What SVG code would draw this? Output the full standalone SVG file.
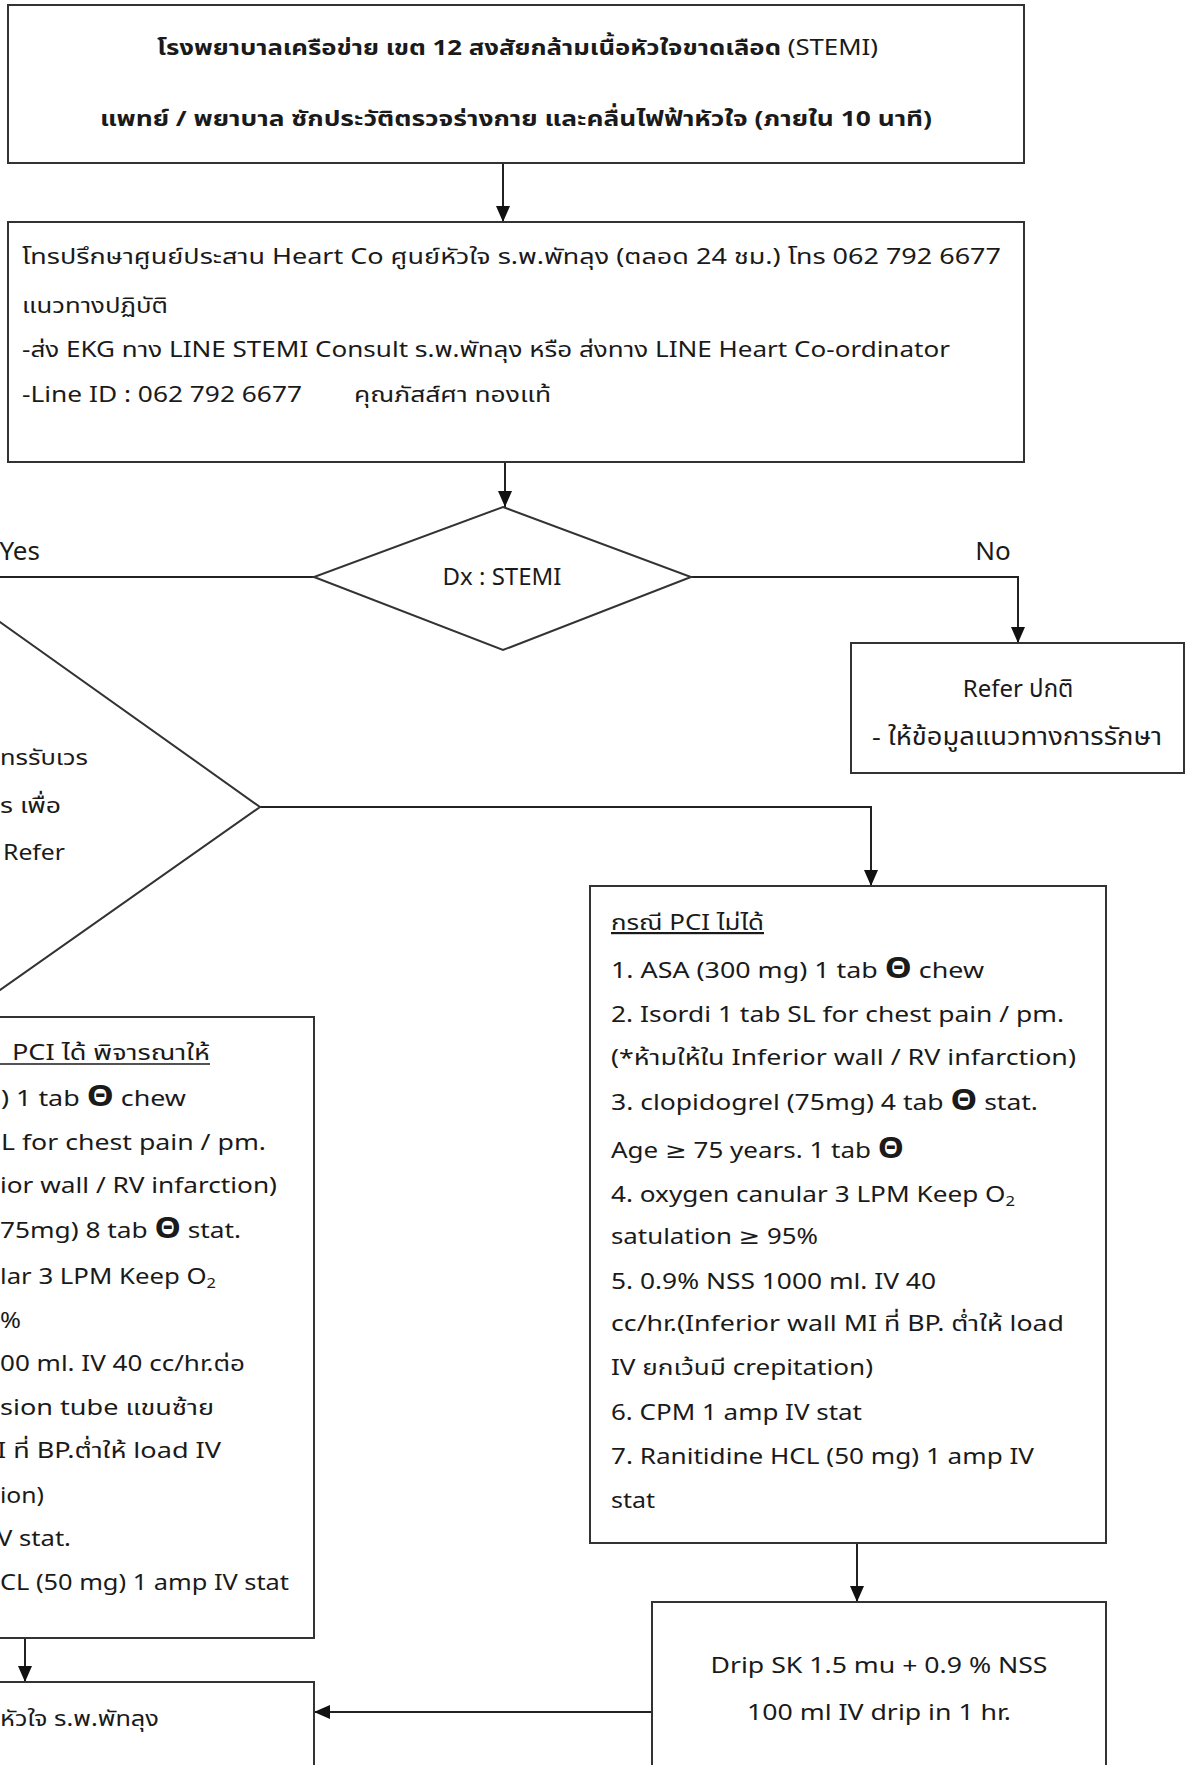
<svg xmlns="http://www.w3.org/2000/svg" width="1186" height="1765" viewBox="0 0 1186 1765">
<style>
.box{fill:#fff;stroke:#333;stroke-width:2}
.ln{fill:none;stroke:#222;stroke-width:2}
text{font-family:"Noto Sans Thai","Noto Sans","DejaVu Sans",sans-serif;font-size:22px;fill:#1a1a1a}
.b{font-weight:bold}
.n{font-weight:normal}
.th{font-weight:bold;font-size:28px}
.u{text-decoration:underline}
.c{text-anchor:middle}
.e{text-anchor:end}
</style>
<defs>
<marker id="ah" markerUnits="userSpaceOnUse" markerWidth="16" markerHeight="14" refX="16" refY="7" orient="auto">
<path d="M0,0 L16,7 L0,14 Z" fill="#111"/>
</marker>
</defs>
<rect width="1186" height="1765" fill="#fff"/>

<g id="connectors">
<line class="ln" x1="503" y1="163" x2="503" y2="222" marker-end="url(#ah)"/>
<line class="ln" x1="505" y1="462" x2="505" y2="507" marker-end="url(#ah)"/>
<line class="ln" x1="314" y1="577" x2="0" y2="577"/>
<polyline class="ln" points="691,577 1018,577 1018,643" marker-end="url(#ah)"/>
<polyline class="ln" points="260,807 871,807 871,886" marker-end="url(#ah)"/>
<line class="ln" x1="857" y1="1543" x2="857" y2="1602" marker-end="url(#ah)"/>
<line class="ln" x1="25" y1="1638" x2="25" y2="1682" marker-end="url(#ah)"/>
<line class="ln" x1="652" y1="1712" x2="314" y2="1712" marker-end="url(#ah)"/>
<text x="40" y="560" class="e" style="font-size:26px">Yes</text>
<text x="993" y="560" class="c" style="font-size:26px">No</text>
</g>

<g id="n-start">
<rect class="box" x="8" y="5" width="1016" height="158"/>
<text class="b" x="157" y="55" textLength="721" lengthAdjust="spacingAndGlyphs">โรงพยาบาลเครือข่าย เขต 12 สงสัยกล้ามเนื้อหัวใจขาดเลือด <tspan class="n">(STEMI)</tspan></text>
<text class="b" x="100" y="126" textLength="832" lengthAdjust="spacingAndGlyphs">แพทย์ / พยาบาล ซักประวัติตรวจร่างกาย และคลื่นไฟฟ้าหัวใจ (ภายใน 10 นาที)</text>
</g>

<g id="n-consult">
<rect class="box" x="8" y="222" width="1016" height="240"/>
<text x="22" y="264" textLength="979" lengthAdjust="spacingAndGlyphs">โทรปรึกษาศูนย์ประสาน Heart Co ศูนย์หัวใจ ร.พ.พัทลุง (ตลอด 24 ชม.) โทร 062 792 6677</text>
<text x="22" y="313" textLength="146" lengthAdjust="spacingAndGlyphs">แนวทางปฏิบัติ</text>
<text x="22" y="357" textLength="928" lengthAdjust="spacingAndGlyphs">-ส่ง EKG ทาง LINE STEMI Consult ร.พ.พัทลุง หรือ ส่งทาง LINE Heart Co-ordinator</text>
<text x="22" y="402" textLength="280" lengthAdjust="spacingAndGlyphs">-Line ID : 062 792 6677</text>
<text x="354" y="402" textLength="197" lengthAdjust="spacingAndGlyphs">คุณภัสส์ศา ทองแท้</text>
</g>

<g id="n-dx">
<polygon class="box" points="503,507 691,577 503,650 314,577"/>
<text x="502" y="585" class="c" style="font-size:24px">Dx : STEMI</text>
</g>

<g id="n-refer">
<rect class="box" x="851" y="643" width="333" height="130"/>
<text x="1018" y="697" class="c" style="font-size:24px">Refer ปกติ</text>
<text x="1017" y="745" class="c" textLength="290" lengthAdjust="spacingAndGlyphs" style="font-size:24px">- ให้ข้อมูลแนวทางการรักษา</text>
</g>

<g id="n-decision2">
<polygon class="box" points="0,622 260,807 0,990 -260,807"/>
<text x="0" y="765" textLength="88" lengthAdjust="spacingAndGlyphs">ทรรับเวร</text>
<text x="0" y="813" textLength="61" lengthAdjust="spacingAndGlyphs">ร เพื่อ</text>
<text x="3" y="860" textLength="62" lengthAdjust="spacingAndGlyphs">Refer</text>
</g>

<g id="n-pci-yes">
<rect class="box" x="-10" y="1017" width="324" height="621"/>
<text x="12" y="1060" textLength="198" lengthAdjust="spacingAndGlyphs">PCI ได้ พิจารณาให้</text>
<line x1="0" y1="1064" x2="210" y2="1064" stroke="#1a1a1a" stroke-width="1.5"/>
<text x="1" y="1106" textLength="185" lengthAdjust="spacingAndGlyphs">) 1 tab <tspan class="th">Θ</tspan> chew</text>
<text x="1" y="1150" textLength="265" lengthAdjust="spacingAndGlyphs">L for chest pain / pm.</text>
<text x="0" y="1193" textLength="277" lengthAdjust="spacingAndGlyphs">ior wall / RV infarction)</text>
<text x="0" y="1238" textLength="241" lengthAdjust="spacingAndGlyphs">75mg) 8 tab <tspan class="th">Θ</tspan> stat.</text>
<text x="0" y="1284" textLength="216" lengthAdjust="spacingAndGlyphs">lar 3 LPM Keep O<tspan style="font-size:14px" dy="4">2</tspan></text>
<text x="0" y="1328" textLength="21" lengthAdjust="spacingAndGlyphs">%</text>
<text x="0" y="1371" textLength="245" lengthAdjust="spacingAndGlyphs">00 ml. IV 40 cc/hr.ต่อ</text>
<text x="0" y="1415" textLength="214" lengthAdjust="spacingAndGlyphs">sion tube แขนซ้าย</text>
<text x="-3" y="1458" textLength="224" lengthAdjust="spacingAndGlyphs">I ที่ BP.ต่ำให้ load IV</text>
<text x="0" y="1503" textLength="44" lengthAdjust="spacingAndGlyphs">ion)</text>
<text x="-3" y="1546" textLength="74" lengthAdjust="spacingAndGlyphs">V stat.</text>
<text x="0" y="1590" textLength="289" lengthAdjust="spacingAndGlyphs">CL (50 mg) 1 amp IV stat</text>
</g>

<g id="n-pci-no">
<rect class="box" x="590" y="886" width="516" height="657"/>
<text x="611" y="930" class="u" textLength="153" lengthAdjust="spacingAndGlyphs">กรณี PCI ไม่ได้</text>
<text x="611" y="978" textLength="373" lengthAdjust="spacingAndGlyphs">1. ASA (300 mg) 1 tab <tspan class="th">Θ</tspan> chew</text>
<text x="611" y="1022" textLength="453" lengthAdjust="spacingAndGlyphs">2. Isordi 1 tab SL for chest pain / pm.</text>
<text x="611" y="1065" textLength="465" lengthAdjust="spacingAndGlyphs">(*ห้ามให้ใน Inferior wall / RV infarction)</text>
<text x="611" y="1110" textLength="427" lengthAdjust="spacingAndGlyphs">3. clopidogrel (75mg) 4 tab <tspan class="th">Θ</tspan> stat.</text>
<text x="611" y="1158" textLength="293" lengthAdjust="spacingAndGlyphs">Age ≥ 75 years. 1 tab <tspan class="th">Θ</tspan></text>
<text x="611" y="1202" textLength="404" lengthAdjust="spacingAndGlyphs">4. oxygen canular 3 LPM Keep O<tspan style="font-size:14px" dy="4">2</tspan></text>
<text x="611" y="1244" textLength="207" lengthAdjust="spacingAndGlyphs">satulation ≥ 95%</text>
<text x="611" y="1289" textLength="325" lengthAdjust="spacingAndGlyphs">5. 0.9% NSS 1000 ml. IV 40</text>
<text x="611" y="1331" textLength="453" lengthAdjust="spacingAndGlyphs">cc/hr.(Inferior wall MI ที่ BP. ต่ำให้ load</text>
<text x="611" y="1375" textLength="262" lengthAdjust="spacingAndGlyphs">IV ยกเว้นมี crepitation)</text>
<text x="611" y="1420" textLength="251" lengthAdjust="spacingAndGlyphs">6. CPM 1 amp IV stat</text>
<text x="611" y="1464" textLength="423" lengthAdjust="spacingAndGlyphs">7. Ranitidine HCL (50 mg) 1 amp IV</text>
<text x="611" y="1508" textLength="44" lengthAdjust="spacingAndGlyphs">stat</text>
</g>

<g id="n-drip">
<rect class="box" x="652" y="1602" width="454" height="200"/>
<text x="879" y="1673" class="c" textLength="337" lengthAdjust="spacingAndGlyphs">Drip SK 1.5 mu + 0.9 % NSS</text>
<text x="879" y="1720" class="c" textLength="264" lengthAdjust="spacingAndGlyphs">100 ml IV drip in 1 hr.</text>
</g>

<g id="n-heart">
<rect class="box" x="-10" y="1682" width="324" height="120"/>
<text x="0" y="1726" textLength="159" lengthAdjust="spacingAndGlyphs">หัวใจ ร.พ.พัทลุง</text>
</g>
</svg>
